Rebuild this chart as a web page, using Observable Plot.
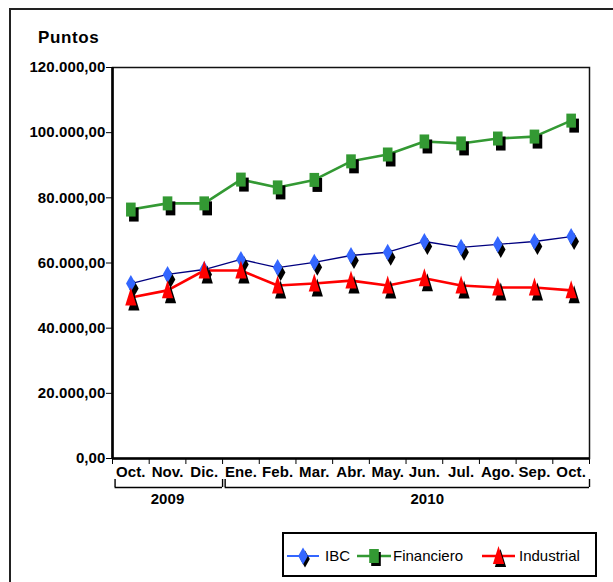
<!DOCTYPE html>
<html>
<head>
<meta charset="utf-8">
<script src="https://cdn.jsdelivr.net/npm/d3@7"></script>
<script src="https://cdn.jsdelivr.net/npm/@observablehq/plot@0.6"></script>
<style>
  html, body { margin: 0; padding: 0; background: #fff; overflow: hidden; }
  #wrap { position: relative; width: 613px; height: 582px; overflow: hidden; font-family: "Liberation Sans", Arial, sans-serif; }
  #outer { position: absolute; left: 9px; top: 8px; width: 700px; height: 700px; border: 2px solid #222; box-sizing: border-box; }
  #title { position: absolute; left: 38px; top: 29px; font-size: 17px; line-height: 17px; font-weight: bold; letter-spacing: 0.6px; }
  #chart { position: absolute; left: 0; top: 0; }
  #legend { position: absolute; left: 282px; top: 532px; }
</style>
</head>
<body>
<div id="wrap">
  <div id="outer"></div>
  <div id="chart"></div>
  <div id="title">Puntos</div>
  <div id="legend"></div>
</div>
<script>
// ---- data ----
const months = ["Oct.","Nov.","Dic.","Ene.","Feb.","Mar.","Abr.","May.","Jun.","Jul.","Ago.","Sep.","Oct."];
const years = ["2009", "2010"];
const yearFirstMonth = [0, 3];
const yearLastMonth = [2, 12];
const ibc        = [53700, 56500, 58000, 61100, 58600, 60200, 62300, 63300, 66600, 64800, 65700, 66600, 68100];
const financiero = [76400, 78300, 78300, 85600, 83200, 85500, 91200, 93300, 97300, 96700, 98200, 98800, 103700];
const industrial = [49400, 51600, 57700, 57700, 53100, 53700, 54600, 53100, 55300, 53100, 52500, 52500, 51600];
const yTicks = [0, 20000, 40000, 60000, 80000, 100000, 120000];
const yTickLabels = ["0,00", "20.000,00", "40.000,00", "60.000,00", "80.000,00", "100.000,00", "120.000,00"];
const seriesNames = ["IBC", "Financiero", "Industrial"];

// ---- symbols ----
const diamond = {draw(c) { c.moveTo(0, -8.5); c.lineTo(4.8, 0); c.lineTo(0, 8.5); c.lineTo(-4.8, 0); c.closePath(); }};
const square = {draw(c) { c.rect(-4.8, -7, 9.6, 14); }};
const triangle = {draw(c) { c.moveTo(0, -10); c.lineTo(5.6, 8); c.lineTo(-5.6, 8); c.closePath(); }};

const series = [
  {name: seriesNames[0], values: ibc, marker: "#3366ff", line: "#000080", lw: 1.3, legendLine: "#3366ff", legendLw: 2, sym: diamond},
  {name: seriesNames[1], values: financiero, marker: "#339933", line: "#339933", lw: 2.6, legendLine: "#339933", legendLw: 2.6, sym: square},
  {name: seriesNames[2], values: industrial, marker: "#ff0000", line: "#ff0000", lw: 2.6, legendLine: "#ff0000", legendLw: 2.6, sym: triangle}
];

const idx = d3.range(months.length);
const bounds = d3.range(months.length + 1).map(k => k - 0.5);

const marks = [
  Plot.frame({stroke: "#111", strokeWidth: 1.5}),
  Plot.ruleX([-0.5], {stroke: "#000", strokeWidth: 2.6}),
  Plot.ruleY([0], {stroke: "#000", strokeWidth: 2.6}),
  // month labels
  Plot.text(idx, {x: i => i, y: 0, dy: 14, text: i => months[i], fill: "#000"}),
  // year brackets
  Plot.ruleY(years, {x1: (d, j) => yearFirstMonth[j] - 0.43, x2: (d, j) => yearLastMonth[j] + 0.5, y: 0, dy: 29, stroke: "#000", strokeWidth: 1.4}),
  Plot.ruleX(years.flatMap((d, j) => [yearFirstMonth[j] - 0.43, yearLastMonth[j] + 0.5]), {x: d => d, y1: 0, y2: 2450, dy: 29, stroke: "#000", strokeWidth: 1.4}),
  Plot.text(years, {x: (d, j) => j === 0 ? (yearFirstMonth[j] + yearLastMonth[j]) / 2 : (yearFirstMonth[j] + yearLastMonth[j]) / 2 + 0.58, y: 0, dy: 41, text: d => d, fill: "#000"})
];

for (const s of series) {
  marks.push(Plot.line(idx, {x: i => i, y: i => s.values[i], stroke: s.line, strokeWidth: s.lw}));
}
for (const s of series) {
  marks.push(Plot.dot(idx, {x: i => i, y: i => s.values[i], symbol: s.sym, fill: "#000", stroke: "none", dx: 3, dy: 5}));
  marks.push(Plot.dot(idx, {x: i => i, y: i => s.values[i], symbol: s.sym, fill: s.marker, stroke: "none"}));
}

const chart = Plot.plot({
  width: 613,
  height: 520,
  marginLeft: 112,
  marginRight: 24,
  marginTop: 67,
  marginBottom: 62,
  style: {fontFamily: "'Liberation Sans', Arial, sans-serif", fontSize: "15px", fontWeight: "bold", letterSpacing: "0.1px", background: "transparent", color: "#000"},
  x: {type: "linear", domain: [-0.5, 12.5], ticks: bounds, tickFormat: () => "", tickSize: 6, label: null},
  y: {domain: [0, 120000], ticks: yTicks, tickFormat: d => yTickLabels[yTicks.indexOf(d)], tickSize: 6, tickPadding: 1, label: null},
  marks
});
document.getElementById("chart").appendChild(chart);

// ---- legend ----
const lw = 316, lh = 46;
const leg = d3.select("#legend").append("svg").attr("width", lw).attr("height", lh)
  .style("font-family", "'Liberation Sans', Arial, sans-serif");
leg.append("rect").attr("x", 1).attr("y", 1).attr("width", lw - 3).attr("height", lh - 3)
  .attr("fill", "#fff").attr("stroke", "#000").attr("stroke-width", 2);
const legendItems = [
  {x0: 5, x1: 37, text: 43},
  {x0: 75, x1: 109, text: 111},
  {x0: 200, x1: 233, text: 237}
];
series.forEach((s, k) => {
  const it = legendItems[k];
  const cy = 24, cx = (it.x0 + it.x1) / 2;
  leg.append("line").attr("x1", it.x0).attr("x2", it.x1).attr("y1", cy).attr("y2", cy)
    .attr("stroke", s.legendLine).attr("stroke-width", s.legendLw);
  const p = d3.path(); s.sym.draw(p);
  leg.append("path").attr("d", p.toString()).attr("fill", "#000").attr("transform", `translate(${cx + 2},${cy + 3})`);
  leg.append("path").attr("d", p.toString()).attr("fill", s.marker).attr("transform", `translate(${cx},${cy})`);
  leg.append("text").attr("x", it.text).attr("y", 29).attr("font-size", 15).attr("fill", "#000").text(s.name);
});
</script>
</body>
</html>
